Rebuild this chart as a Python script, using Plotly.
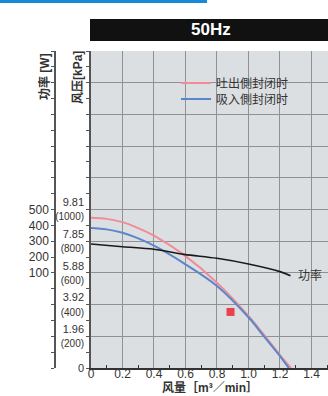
import plotly.graph_objects as go

# ---- data ----
flow_red = [0.0, 0.1, 0.2, 0.3, 0.4, 0.59, 0.8, 1.0, 1.1, 1.2, 1.27]
press_red = [9.30, 9.23, 9.03, 8.66, 8.19, 7.00, 5.28, 3.22, 2.04, 0.80, 0.0]   # kPa

flow_blue = [0.0, 0.1, 0.2, 0.3, 0.4, 0.59, 0.8, 1.0, 1.1, 1.2, 1.256]
press_blue = [8.67, 8.58, 8.37, 8.02, 7.57, 6.48, 5.08, 3.14, 1.94, 0.74, 0.0]  # kPa

flow_pow = [0.0, 0.2, 0.4, 0.59, 0.8, 1.0, 1.2, 1.267]
power_w = [282, 265, 249, 217, 192, 156, 108, 82]

marker_x = [0.886]
marker_y = [3.47]

x_ticks = [0, 0.2, 0.4, 0.6, 0.8, 1.0, 1.2, 1.4]
x_tick_labels = ["0", "0.2", "0.4", "0.6", "0.8", "1.0", "1.2", "1.4"]
press_kpa_labels = ["0", "1.96", "3.92", "5.88", "7.85", "9.81"]
press_mmaq_labels = ["", "(200)", "(400)", "(600)", "(800)", "(1000)"]
power_ticks = [100, 200, 300, 400, 500]

legend_red = "吐出側封闭时"
legend_blue = "吸入側封闭时"

FONT = "Liberation Sans, Arial, Noto Sans CJK SC"
TXT = "#333333"

# ---- figure ----
L, R, T, B = 55, 0, 51, 28
W, H = 328, 396
pw = W - L - R
ph = H - T - B

def px_x(px):
    return (px - L) / pw

def px_y(py):
    return (H - B - py) / ph

fig = go.Figure()

fig.add_trace(go.Scatter(x=flow_red, y=press_red, mode="lines", name=legend_red, legend="legend",
                         line=dict(color="#f08c98", width=2, shape="spline", smoothing=1.0),
                         xaxis="x", yaxis="y"))
fig.add_trace(go.Scatter(x=flow_blue, y=press_blue, mode="lines", name=legend_blue, legend="legend2",
                         line=dict(color="#5b86c9", width=2, shape="spline", smoothing=1.0),
                         xaxis="x", yaxis="y"))
fig.add_trace(go.Scatter(x=flow_pow, y=power_w, mode="lines", showlegend=False,
                         line=dict(color="#1a1a1a", width=1.6, shape="spline", smoothing=1.0),
                         xaxis="x", yaxis="y2"))
fig.add_trace(go.Scatter(x=marker_x, y=marker_y, mode="markers", showlegend=False,
                         marker=dict(symbol="square", size=8, color="#e8404c"),
                         xaxis="x", yaxis="y"))

# pressure axis: grid every 1.962 kPa (200 mmAq)
step = 1.962
p_vals = [round(i * step, 3) for i in range(11)]
p_text = []
for i in range(11):
    if i < len(press_kpa_labels):
        if press_mmaq_labels[i]:
            p_text.append(press_kpa_labels[i] + "<br><span style='font-size:10px'>" + press_mmaq_labels[i] + "</span>")
        else:
            p_text.append(press_kpa_labels[i])
    else:
        p_text.append("")

pow_vals = list(range(-500, 1501, 100))
pow_text = [str(v) if v in power_ticks else "" for v in pow_vals]

x0dom = px_x(91)

leg_common = dict(xanchor="left", yanchor="middle", bgcolor="rgba(0,0,0,0)", borderwidth=0,
                  font=dict(size=12, color=TXT))

fig.update_layout(
    width=W, height=H,
    margin=dict(l=L, r=R, t=T, b=B, pad=0, autoexpand=False),
    paper_bgcolor="white",
    plot_bgcolor="#dcdfe2",
    font=dict(family=FONT, size=12, color=TXT),
    xaxis=dict(domain=[x0dom, 1], range=[0, 1.505], tickvals=x_ticks, ticktext=x_tick_labels,
               showgrid=True, gridcolor="#8f9194", gridwidth=1, zeroline=False,
               showline=True, linecolor="#333333", linewidth=1.5,
               ticks="", tickfont=dict(size=12, color=TXT), automargin=False,
               ticklabelstandoff=-6,
               minor=dict(tickmode="linear", tick0=0.1, dtick=0.2, ticks="inside",
                          ticklen=3, tickcolor="#333333", showgrid=False),
               anchor="y"),
    yaxis=dict(range=[0, 19.62], tickmode="array", tickvals=p_vals, ticktext=p_text,
               showgrid=True, gridcolor="#8f9194", gridwidth=1, zeroline=False,
               showline=True, linecolor="#555555", linewidth=1.5,
               ticks="outside", ticklen=3, tickcolor="#555555", automargin=False,
               tickfont=dict(size=11, color=TXT),
               minor=dict(tickmode="linear", tick0=0, dtick=0.981, ticks="outside",
                          ticklen=3, tickcolor="#555555", showgrid=False),
               anchor="x"),
    yaxis2=dict(range=[-500, 1500], overlaying="y", anchor="free", position=0, side="left",
                tickmode="array", tickvals=pow_vals, ticktext=pow_text, automargin=False,
                showgrid=False, zeroline=False, showline=True, linecolor="#555555", linewidth=1.5,
                ticks="outside", ticklen=3, tickcolor="#555555",
                tickfont=dict(size=12, color=TXT)),
    legend=dict(x=px_x(176), y=px_y(83), **leg_common),
    legend2=dict(x=px_x(176), y=px_y(99), **leg_common),
    showlegend=True,
)

shapes = [
    dict(type="rect", xref="paper", yref="paper", x0=px_x(90), x1=1.0, y0=px_y(41), y1=px_y(19),
         fillcolor="#111111", line=dict(width=0), layer="above"),
    dict(type="rect", xref="paper", yref="paper", x0=px_x(0), x1=px_x(207), y0=px_y(3), y1=px_y(-1),
         fillcolor="#1889d6", line=dict(width=0), layer="above"),
]
fig.update_layout(shapes=shapes)

annotations = [
    dict(text="<b>50Hz</b>", xref="paper", yref="paper", x=px_x(211), y=px_y(30),
         showarrow=False, font=dict(size=17, color="white", family=FONT), xanchor="center", yanchor="middle"),
    dict(text="<b>功率 [W]</b>", xref="paper", yref="paper", x=px_x(44), y=px_y(77),
         showarrow=False, textangle=-90, font=dict(size=12, color=TXT), xanchor="center", yanchor="middle"),
    dict(text="<b>风压[kPa]</b>", xref="paper", yref="paper", x=px_x(78), y=px_y(78),
         showarrow=False, textangle=-90, font=dict(size=12, color=TXT), xanchor="center", yanchor="middle"),
    dict(text="<b>风量［m³／min］</b>", xref="paper", yref="paper", x=px_x(210), y=px_y(388),
         showarrow=False, font=dict(size=12, color=TXT), xanchor="center", yanchor="middle"),
    dict(text="功率", xref="x", yref="y2", x=flow_pow[-1] + 0.035, y=power_w[-1],
         showarrow=False, font=dict(size=12, color=TXT), xanchor="left", yanchor="middle"),
]
fig.update_layout(annotations=annotations)

fig.write_html("out.html", config={"displayModeBar": False},
               post_script="document.body.style.margin='0';document.body.style.padding='0';")
